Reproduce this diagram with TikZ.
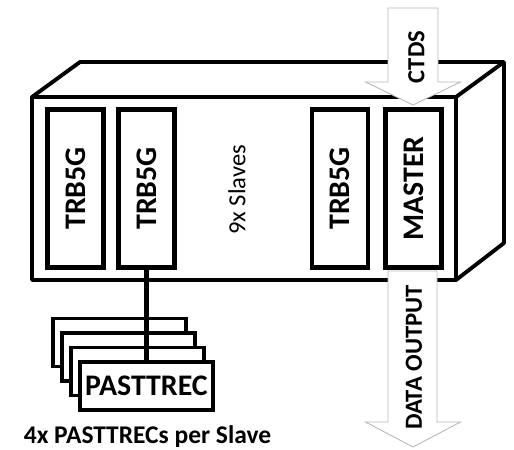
\documentclass[tikz,border=0pt]{standalone}
\usepackage{fontspec}
\setsansfont{Carlito}
\usetikzlibrary{positioning}

\newcommand{\fs}[1]{\fontsize{#1}{#1}\selectfont}

\begin{document}
\begin{tikzpicture}[
  font=\sffamily\bfseries,
  board/.style={draw, line width=2.6pt, fill=white, rotate=90, minimum width=3.16cm, minimum height=1.12cm, inner sep=0pt, font=\sffamily\bfseries\fs{17}},
  card/.style={draw, line width=2.2pt, fill=white, minimum width=2.66cm, minimum height=0.96cm, inner sep=0pt},
  flow/.style={draw=gray!55, fill=white, line width=0.5pt}
]

\useasboundingbox (0,0) rectangle (10.28,8.98);

% Crate (outline, then inner edges)
\draw[line width=2.2pt, line join=round] (0.64,3.38) -- (0.64,7.04) -- (1.6,7.74) -- (10.08,7.74) -- (10.08,4.12) -- (9.12,3.38) -- cycle;
\draw[line width=2.2pt, line join=round] (0.64,7.04) -- (9.12,7.04) -- (10.08,7.74);
\draw[line width=2.2pt] (9.12,7.04) -- (9.12,3.38);

% Trigger in, data out
\draw[flow] (7.76,8.82) -- (8.76,8.82) -- (8.76,7.34) -- (9.21,7.34) -- (8.26,6.88) -- (7.31,7.34) -- (7.76,7.34) -- cycle;
\node[rotate=90, font=\sffamily\bfseries\fs{14}] (ctds) at (8.33,7.84) {CTDS};

\draw[flow] (7.76,3.56) -- (8.74,3.56) -- (8.74,0.54) -- (9.21,0.54) -- (8.26,0.04) -- (7.31,0.54) -- (7.76,0.54) -- cycle;
\node[rotate=90, font=\sffamily\bfseries\fs{14}] (dout) at (8.28,1.83) {DATA OUTPUT};

% Boards in the crate
\node[board] (trb1) at (1.51,5.21) {TRB5G};
\node[board] (trb2) at (2.93,5.21) {TRB5G};
\node[board] (trb3) at (6.80,5.21) {TRB5G};
\node[board] (master) at (8.27,5.21) {MASTER};
\node[rotate=90, font=\sffamily\fs{14}] (slaves) at (4.74,5.18) {9x Slaves};

% Front-end cards
\node[card] (c4) at (2.39,2.13) {};
\node[card] (c3) at (2.57,1.84) {};
\node[card] (c2) at (2.75,1.55) {};
\node[card, font=\sffamily\bfseries\fs{17}] (pt) at (2.93,1.26) {PASTTREC};

\draw[line width=2.4pt] (trb2.west) -- (pt.north);

\node[font=\sffamily\bfseries\fs{14.5}] (cards) at (2.95,0.24) {4x PASTTRECs per Slave};

\end{tikzpicture}
\end{document}
